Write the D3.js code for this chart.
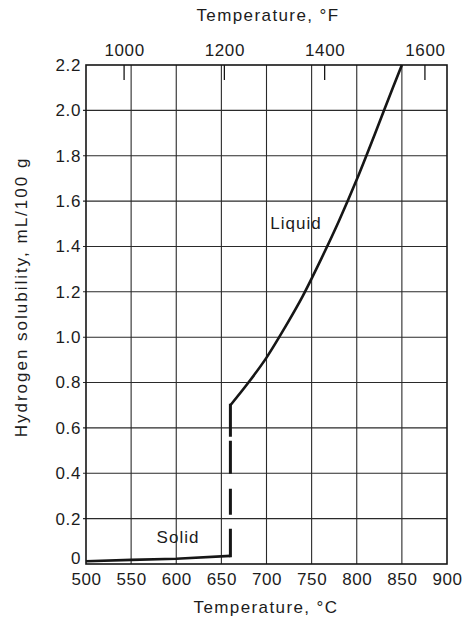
<!DOCTYPE html>
<html>
<head>
<meta charset="utf-8">
<script src="https://cdn.jsdelivr.net/npm/d3@7"></script>
<style>
  html, body { margin: 0; padding: 0; background: #fff; }
  svg text { font-family: "Liberation Sans", Arial, Helvetica, sans-serif; fill: #1c1c1c; }
</style>
</head>
<body>
<svg id="chart" width="462" height="620"></svg>
<script>
// Temperature axis (°C), bottom
const celsiusTicks = [500, 550, 600, 650, 700, 750, 800, 850, 900];
// Temperature axis (°F), top
const fahrenheitTicks = [1000, 1200, 1400, 1600];
// Solubility axis
const solTicks = [0, 0.2, 0.4, 0.6, 0.8, 1.0, 1.2, 1.4, 1.6, 1.8, 2.0, 2.2];
const solTickLabels = ["0", "0.2", "0.4", "0.6", "0.8", "1.0", "1.2", "1.4", "1.6", "1.8", "2.0", "2.2"];

// Solid aluminium branch
const solidTemp = [500, 550, 600, 660];
const solidSol  = [0.012, 0.018, 0.023, 0.036];
// Jump at the melting point
const meltTemp = [660, 660];
const meltSol  = [0.70, 0.036];
// Liquid aluminium branch
const liquidTemp = [660, 680, 700, 720, 740, 760, 780, 800, 820, 840, 850];
const liquidSol  = [0.70, 0.80, 0.91, 1.04, 1.18, 1.34, 1.51, 1.695, 1.895, 2.10, 2.20];

const svg = d3.select("#chart");
const plotLeft = 86, plotRight = 447, plotTop = 65, plotBottom = 564;

const x = d3.scaleLinear().domain([500, 900]).range([plotLeft, plotRight]);
const y = d3.scaleLinear().domain([0, 2.2]).range([plotBottom, plotTop]);
// °F scale derived from the °C scale; the printed °F scale sits slightly right
const fShift = 4;
const xF = d3.scaleLinear()
  .domain([500 * 9 / 5 + 32, 900 * 9 / 5 + 32])
  .range([plotLeft + fShift, plotRight + fShift]);

const ink = "#161616";

// Grid
const grid = svg.append("g").attr("stroke", "#2a2a2a").attr("stroke-width", 1.1);
grid.selectAll("line.v").data(celsiusTicks.slice(1, -1)).join("line")
  .attr("class", "v")
  .attr("x1", d => x(d)).attr("x2", d => x(d))
  .attr("y1", plotTop).attr("y2", plotBottom);
grid.selectAll("line.h").data(solTicks.slice(1, -1)).join("line")
  .attr("class", "h")
  .attr("x1", plotLeft - 3).attr("x2", plotRight)
  .attr("y1", d => y(d)).attr("y2", d => y(d));

// Frame
svg.append("rect")
  .attr("x", plotLeft).attr("y", plotTop)
  .attr("width", plotRight - plotLeft).attr("height", plotBottom - plotTop)
  .attr("fill", "none").attr("stroke", ink).attr("stroke-width", 1.6);

// Bottom axis labels (°C)
const xAxis = d3.axisBottom(x).tickValues(celsiusTicks).tickSize(0).tickPadding(9).tickFormat(d3.format("d"));
const gx = svg.append("g").attr("transform", `translate(0,${plotBottom})`).call(xAxis);
gx.select(".domain").remove();
gx.selectAll("text").attr("font-size", 17).style("letter-spacing", "0.6px");

// Left axis labels
const yAxis = d3.axisLeft(y).tickValues(solTicks).tickSize(0).tickPadding(5)
  .tickFormat((d, i) => solTickLabels[i]);
const gy = svg.append("g").attr("transform", `translate(${plotLeft},0)`).call(yAxis);
gy.select(".domain").remove();
gy.selectAll("text").attr("font-size", 17).style("letter-spacing", "0.6px");
// the zero label sits a little above the corner, clear of the °C labels
gy.selectAll(".tick").filter(d => d === 0).select("text").attr("dy", "-0.05em");

// Top axis (°F): short ticks pointing into the plot
const fAxis = d3.axisTop(xF).tickValues(fahrenheitTicks).tickSize(0).tickPadding(9).tickFormat(d3.format("d"));
const gf = svg.append("g").attr("transform", `translate(0,${plotTop})`).call(fAxis);
gf.select(".domain").remove();
gf.selectAll("text").attr("font-size", 17).style("letter-spacing", "0.6px");
svg.append("g").selectAll("line").data(fahrenheitTicks).join("line")
  .attr("x1", d => xF(d)).attr("x2", d => xF(d))
  .attr("y1", plotTop).attr("y2", plotTop + 15)
  .attr("stroke", ink).attr("stroke-width", 1.3);

// Axis titles
svg.append("text").attr("x", 268).attr("y", 21)
  .attr("text-anchor", "middle").attr("font-size", 17).style("letter-spacing", "1.4px")
  .text("Temperature, °F");
svg.append("text").attr("x", 266).attr("y", 613)
  .attr("text-anchor", "middle").attr("font-size", 17).style("letter-spacing", "1.4px")
  .text("Temperature, °C");
svg.append("text")
  .attr("transform", "translate(27,297) rotate(-90)")
  .attr("text-anchor", "middle").attr("font-size", 17).style("letter-spacing", "2px")
  .text("Hydrogen solubility, mL/100 g");

// Solubility curve
const line = d3.line().x(d => x(d[0])).y(d => y(d[1]));

svg.append("path")
  .datum(solidTemp.map((t, i) => [t, solidSol[i]]))
  .attr("d", line)
  .attr("fill", "none").attr("stroke", ink).attr("stroke-width", 2.6);

svg.append("path")
  .datum(meltTemp.map((t, i) => [t, meltSol[i]]))
  .attr("d", line)
  .attr("fill", "none").attr("stroke", ink).attr("stroke-width", 3)
  .attr("stroke-linecap", "square")
  .attr("stroke-dasharray", "30 7 30 18 23 17 30");

svg.append("path")
  .datum(liquidTemp.map((t, i) => [t, liquidSol[i]]))
  .attr("d", line.curve(d3.curveMonotoneX))
  .attr("fill", "none").attr("stroke", ink).attr("stroke-width", 2.6);

// Phase labels
svg.append("text").attr("x", 296).attr("y", 229)
  .attr("text-anchor", "middle").attr("font-size", 17).style("letter-spacing", "1px")
  .text("Liquid");
svg.append("text").attr("x", 178).attr("y", 543)
  .attr("text-anchor", "middle").attr("font-size", 17).style("letter-spacing", "1px")
  .text("Solid");
</script>
</body>
</html>
